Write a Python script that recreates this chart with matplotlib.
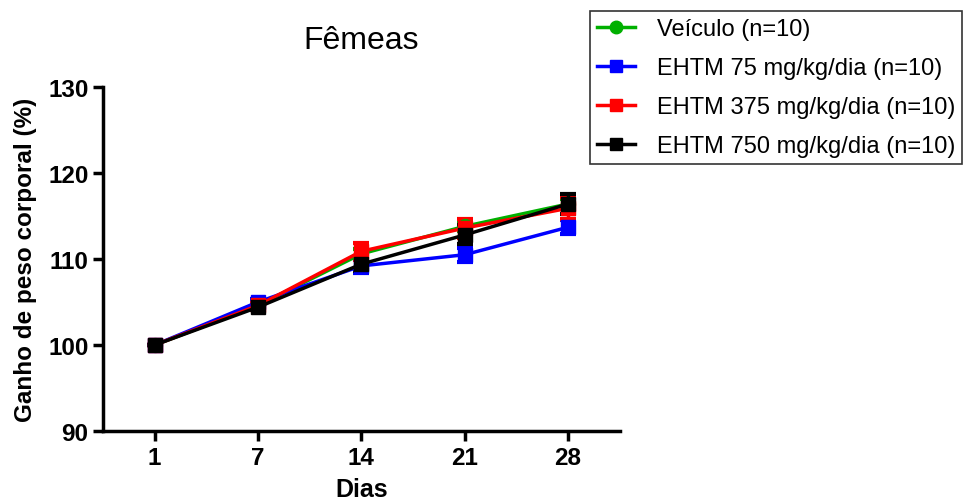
import matplotlib
matplotlib.use('Agg')
import matplotlib.pyplot as plt
from matplotlib.lines import Line2D
import numpy as np

plt.rcParams['font.family'] = ['Liberation Sans', 'DejaVu Sans']

dias = ['1', '7', '14', '21', '28']

veiculo = [100.0, 104.6, 110.6, 113.8, 116.4]
veiculo_sem = [0.0, 0.3, 0.6, 0.6, 0.6]
ehtm75 = [100.0, 105.0, 109.2, 110.5, 113.7]
ehtm75_sem = [0.0, 0.3, 0.8, 0.8, 0.8]
ehtm375 = [100.0, 104.6, 110.9, 113.6, 115.9]
ehtm375_sem = [0.0, 0.3, 1.0, 1.1, 1.3]
ehtm750 = [100.0, 104.4, 109.4, 112.8, 116.4]
ehtm750_sem = [0.0, 0.3, 0.8, 1.1, 1.2]

series = [
    ('Veículo (n=10)', veiculo, veiculo_sem, '#00b000', 'o'),
    ('EHTM 75 mg/kg/dia (n=10)', ehtm75, ehtm75_sem, '#0000ff', 's'),
    ('EHTM 375 mg/kg/dia (n=10)', ehtm375, ehtm375_sem, '#ff0000', 's'),
    ('EHTM 750 mg/kg/dia (n=10)', ehtm750, ehtm750_sem, '#000000', 's'),
]

fig = plt.figure(figsize=(9.66, 5.02), dpi=100)
ax = fig.add_axes([0.1066, 0.1394, 0.535, 0.6853])

x = np.arange(len(dias))
handles = []
for label, vals, sem, color, marker in series:
    ax.errorbar(x, vals, yerr=sem, color=color, marker=marker, markersize=10,
                linewidth=2.5, elinewidth=2.5, capsize=6, capthick=3)
    handles.append(Line2D([], [], color=color, marker=marker, markersize=9,
                          linewidth=2.5, label=label))

ax.set_xlim(-0.5, 4.5)
ax.set_ylim(90, 130)
ax.set_yticks([90, 100, 110, 120, 130])
ax.set_xticks(x)
ax.set_xticklabels(dias)
for s in ['top', 'right']:
    ax.spines[s].set_visible(False)
for s in ['left', 'bottom']:
    ax.spines[s].set_linewidth(2.5)
ax.tick_params(width=2.5, length=7, labelsize=17.5)
for t in ax.get_xticklabels() + ax.get_yticklabels():
    t.set_fontweight('bold')

ax.set_xlabel('Dias', fontsize=18, fontweight='bold', labelpad=6)
ax.set_ylabel('Ganho de peso corporal (%)', fontsize=17.5, fontweight='bold',
              labelpad=8)
ax.set_title('Fêmeas', fontsize=23, pad=28)

leg = fig.legend(handles=handles, loc='upper left',
                 bbox_to_anchor=(0.6107, 0.976),
                 fontsize=17, frameon=True, fancybox=False,
                 handlelength=1.6, handletextpad=0.93,
                 labelspacing=0.72, borderpad=0.3, borderaxespad=0)
leg.get_frame().set_edgecolor('black')
leg.get_frame().set_linewidth(1.2)

fig.savefig('out.png', dpi=100)
